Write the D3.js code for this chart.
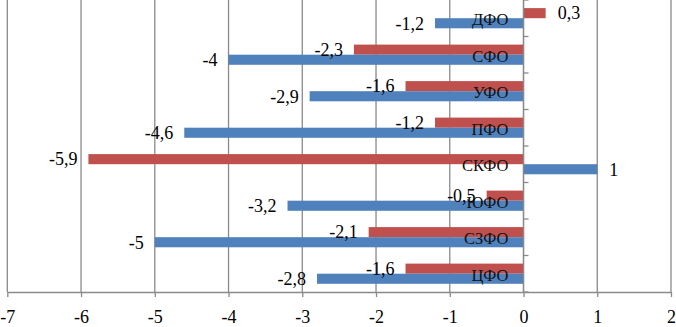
<!DOCTYPE html>
<html><head><meta charset="utf-8">
<script src="https://cdn.jsdelivr.net/npm/d3@7"></script>
<style>body{margin:0;background:#fff}svg{display:block}</style>
</head><body>
<svg id="c" width="676" height="327" font-family="'Liberation Serif', 'Times New Roman', serif"></svg>
<script>
const categories = ["ДФО","СФО","УФО","ПФО","СКФО","ЮФО","СЗФО","ЦФО"];
const seriesNames = ["s2","s1"];
const redValues  = [0.3,-2.3,-1.6,-1.2,-5.9,-0.5,-2.1,-1.6];
const blueValues = [-1.2,-4,-2.9,-4.6,1,-3.2,-5,-2.8];
const xTicks = [-7,-6,-5,-4,-3,-2,-1,0,1,2];
const colors = {s2:"#C0504D", s1:"#4F81BD"};
const FONT = "'Liberation Serif', 'Times New Roman', serif";

const svg = d3.select("#c");
const x = d3.scaleLinear().domain([-7,2]).range([7.3,671]);
const y = d3.scaleBand().domain(categories).range([0,292]).padding(0);
const bw = y.bandwidth();
const ys = d3.scaleBand().domain(seriesNames).range([bw*0.222, bw*0.775]).padding(0);
const fmt = v => String(v).replace(".", ",").replace("−","-");

// gridlines
svg.append("g").selectAll("line").data(xTicks).join("line")
  .attr("x1", d=>x(d)).attr("x2", d=>x(d)).attr("y1",0).attr("y2",292)
  .attr("stroke","#8a8a8a").attr("stroke-width",1.3);

// bottom axis
const xAxis = d3.axisBottom(x).tickValues(xTicks).tickSize(5).tickSizeOuter(0).tickFormat(d=>fmt(d));
const gx = svg.append("g").attr("transform","translate(0,292)").call(xAxis);
gx.attr("font-family", FONT);
gx.select(".domain").attr("stroke","#8a8a8a").attr("stroke-width",1.3);
gx.selectAll(".tick line").attr("stroke","#8a8a8a").attr("stroke-width",1.3);
gx.selectAll(".tick text").attr("font-size",18).attr("fill","#000").attr("y",31).attr("dy",0);

// bars
const data = [];
categories.forEach((c,i)=>{
  data.push({c, s:"s2", v:redValues[i]});
  data.push({c, s:"s1", v:blueValues[i]});
});
svg.append("g").selectAll("rect").data(data).join("rect")
  .attr("x", d=>x(Math.min(0,d.v))).attr("width", d=>Math.abs(x(d.v)-x(0)))
  .attr("y", d=>y(d.c)+ys(d.s)).attr("height", ys.bandwidth())
  .attr("fill", d=>colors[d.s]);

// zero axis with category ticks
svg.append("line").attr("x1",x(0)).attr("x2",x(0)).attr("y1",0).attr("y2",292)
  .attr("stroke","#8a8a8a").attr("stroke-width",1.3);
const bounds = d3.range(0,categories.length+1).map(i=>i*bw);
svg.append("g").selectAll("line").data(bounds).join("line")
  .attr("x1",x(0)).attr("x2",x(0)+5).attr("y1",d=>d).attr("y2",d=>d)
  .attr("stroke","#8a8a8a").attr("stroke-width",1.3);

// category labels
svg.append("g").attr("font-family", FONT).selectAll("text").data(categories).join("text")
  .attr("x", x(0)-15).attr("y", d=>y(d)+bw/2+1).attr("dy","0.35em")
  .attr("text-anchor","end").attr("font-size",16.5).attr("fill","#111")
  .text(d=>d);

// value labels
svg.append("g").attr("font-family", FONT).selectAll("text").data(data).join("text")
  .attr("x", d=> d.v<0 ? x(d.v)-11 : x(d.v)+12)
  .attr("y", d=>y(d.c)+ys(d.s)+ys.bandwidth()/2).attr("dy","0.35em")
  .attr("text-anchor", d=> d.v<0 ? "end":"start")
  .attr("font-size",18).attr("fill","#000")
  .text(d=>fmt(d.v));
</script>
</body></html>
